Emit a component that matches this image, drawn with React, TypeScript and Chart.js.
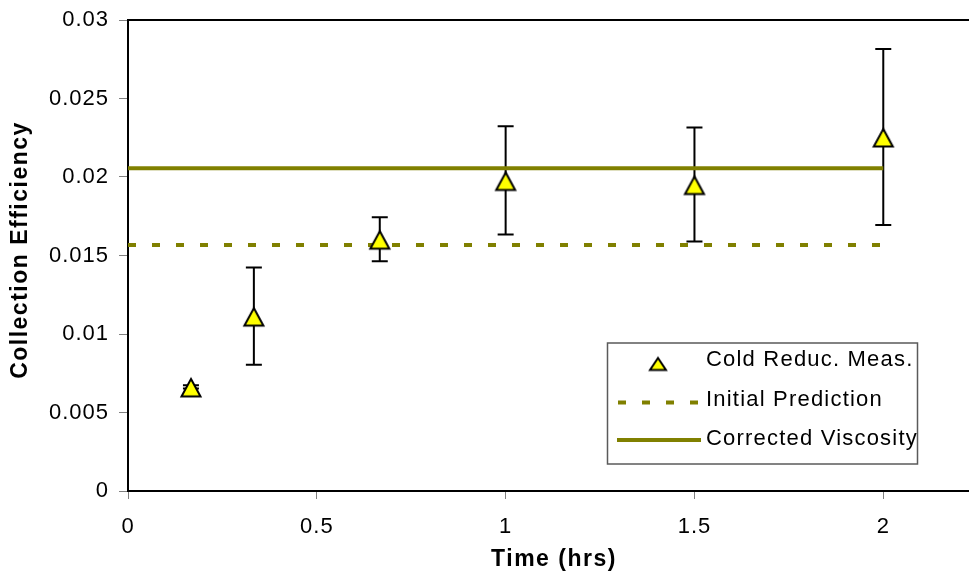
import React, { useEffect, useRef } from 'react';
import { Chart, registerables } from 'chart.js';

Chart.register(...registerables);

// ---- Data ----
const timeHrs = [0.1667, 0.3333, 0.6667, 1, 1.5, 2];
const coldReducMeas = [0.00663, 0.01114, 0.01604, 0.01978, 0.01952, 0.02255];
const measError = [0.0001, 0.0031, 0.0014, 0.00345, 0.00363, 0.0056];
const lineTimes = [0, 2];
const initialPrediction = [0.01567, 0.01567];
const correctedViscosity = [0.02055, 0.02055];
const seriesLabels = ['Cold Reduc. Meas.', 'Initial Prediction', 'Corrected Viscosity'];
const xTicks = [0, 0.5, 1, 1.5, 2];
const yTicks = [0, 0.005, 0.01, 0.015, 0.02, 0.025, 0.03];
const xTitle = 'Time (hrs)';
const yTitle = 'Collection Efficiency';

const OLIVE = '#808000';
const FONT = '"Liberation Sans", Arial, Helvetica, sans-serif';

function makeTriangle(w: number, h: number, top: number, left: number, right: number, bottom: number, lw: number) {
  const c = document.createElement('canvas');
  c.width = w;
  c.height = h;
  const ctx = c.getContext('2d')!;
  ctx.beginPath();
  ctx.moveTo(w / 2, top);
  ctx.lineTo(right, bottom);
  ctx.lineTo(left, bottom);
  ctx.closePath();
  ctx.fillStyle = '#FFFF00';
  ctx.fill();
  ctx.lineWidth = lw;
  ctx.lineJoin = 'miter';
  ctx.strokeStyle = '#000';
  ctx.stroke();
  return c;
}

export default function App() {
  const ref = useRef<HTMLCanvasElement>(null);

  useEffect(() => {
    const canvas = ref.current!;
    const markerBig = makeTriangle(24, 24, 4, 2.5, 21.5, 21.5, 2);
    const markerSmall = makeTriangle(20, 18, 3.5, 2, 18, 15.5, 2);

    const letterSpacingPlugin = {
      id: 'letterSpacing',
      beforeDraw(chart: any) {
        chart.ctx.letterSpacing = '1px';
      },
    };

    const errorBarPlugin = {
      id: 'errorBars',
      beforeDatasetsDraw(chart: any) {
        const ctx = chart.ctx;
        const xs = chart.scales.x;
        const ys = chart.scales.y;
        ctx.save();
        ctx.strokeStyle = '#000';
        ctx.lineWidth = 2;
        timeHrs.forEach((t, i) => {
          const px = xs.getPixelForValue(t);
          const yTop = ys.getPixelForValue(coldReducMeas[i] + measError[i]);
          const yBot = ys.getPixelForValue(coldReducMeas[i] - measError[i]);
          ctx.beginPath();
          ctx.moveTo(px, yTop);
          ctx.lineTo(px, yBot);
          ctx.moveTo(px - 8, yTop);
          ctx.lineTo(px + 8, yTop);
          ctx.moveTo(px - 8, yBot);
          ctx.lineTo(px + 8, yBot);
          ctx.stroke();
        });
        ctx.restore();
      },
    };

    const framePlugin = {
      id: 'frame',
      afterDraw(chart: any) {
        const ctx = chart.ctx;
        const a = chart.chartArea;
        ctx.save();
        // top border
        ctx.strokeStyle = '#000';
        ctx.lineWidth = 2;
        ctx.beginPath();
        ctx.moveTo(a.left - 1, a.top);
        ctx.lineTo(a.right, a.top);
        ctx.stroke();

        // axis titles
        ctx.fillStyle = '#000';
        ctx.font = `bold 23px ${FONT}`;
        ctx.letterSpacing = '1.5px';
        ctx.textAlign = 'center';
        ctx.textBaseline = 'middle';
        ctx.fillText(xTitle, 554, 560);
        ctx.save();
        ctx.translate(21, 250);
        ctx.rotate(-Math.PI / 2);
        ctx.fillText(yTitle, 0, 0);
        ctx.restore();

        // legend
        const bx = 607.5, by = 343, bw = 310, bh = 121;
        ctx.fillStyle = '#fff';
        ctx.fillRect(bx, by, bw, bh);
        ctx.strokeStyle = '#5a5a5a';
        ctx.lineWidth = 1.5;
        ctx.strokeRect(bx, by, bw, bh);
        const rows = [360, 400, 438.5];
        const labels = chart.data.datasets.map((d: any) => d.label);
        ctx.drawImage(markerSmall, 658 - markerSmall.width / 2, 363.5 - markerSmall.height / 2);
        ctx.strokeStyle = OLIVE;
        ctx.lineWidth = 4;
        ctx.lineCap = 'butt';
        ctx.setLineDash([8, 16]);
        ctx.beginPath();
        ctx.moveTo(618, 402.5);
        ctx.lineTo(699, 402.5);
        ctx.stroke();
        ctx.setLineDash([]);
        ctx.beginPath();
        ctx.moveTo(617, 440);
        ctx.lineTo(701, 440);
        ctx.stroke();
        ctx.fillStyle = '#000';
        ctx.font = `22px ${FONT}`;
        ctx.letterSpacing = '1.2px';
        ctx.textAlign = 'left';
        ctx.textBaseline = 'middle';
        labels.forEach((l: string, i: number) => ctx.fillText(l, 706, rows[i]));
        ctx.restore();
      },
    };

    const chart = new Chart(canvas, {
      type: 'scatter',
      data: {
        datasets: [
          {
            label: seriesLabels[0],
            data: timeHrs.map((t, i) => ({ x: t, y: coldReducMeas[i] })),
            pointStyle: markerBig as any,
            pointRadius: 11,
            showLine: false,
            order: 0,
          },
          {
            label: seriesLabels[1],
            data: lineTimes.map((t, i) => ({ x: t, y: initialPrediction[i] })),
            showLine: true,
            borderColor: OLIVE,
            borderWidth: 4,
            borderDash: [8, 16],
            borderCapStyle: 'butt',
            pointRadius: 0,
            order: 2,
          },
          {
            label: seriesLabels[2],
            data: lineTimes.map((t, i) => ({ x: t, y: correctedViscosity[i] })),
            showLine: true,
            borderColor: OLIVE,
            borderWidth: 4,
            borderCapStyle: 'butt',
            pointRadius: 0,
            order: 1,
          },
        ],
      },
      options: {
        animation: false,
        responsive: false,
        devicePixelRatio: 1,
        layout: { autoPadding: false, padding: { top: 20, right: 0, left: 0, bottom: 0 } },
        plugins: {
          legend: { display: false },
          tooltip: { enabled: false },
        },
        scales: {
          x: {
            type: 'linear',
            min: 0,
            max: 2.227,
            afterBuildTicks: (s: any) => {
              s.ticks = xTicks.map((v) => ({ value: v }));
            },
            afterFit: (s: any) => {
              s.height = 86;
              s.paddingLeft = 0;
              s.paddingRight = 0;
            },
            ticks: {
              color: '#000',
              font: { family: FONT, size: 22 },
              padding: 15,
              maxRotation: 0,
              callback: (v: any) => String(Number(Number(v).toFixed(3))),
            },
            grid: { drawOnChartArea: false, tickLength: 8, color: '#808080', lineWidth: 1 },
            border: { color: '#000', width: 2 },
          },
          y: {
            type: 'linear',
            min: 0,
            max: 0.03,
            afterBuildTicks: (s: any) => {
              s.ticks = yTicks.map((v) => ({ value: v }));
            },
            afterFit: (s: any) => {
              s.width = 128;
              s.paddingTop = 0;
              s.paddingBottom = 0;
            },
            ticks: {
              color: '#000',
              font: { family: FONT, size: 22 },
              padding: 10,
              callback: (v: any) => String(Number(Number(v).toFixed(3))),
            },
            grid: { drawOnChartArea: false, tickLength: 9, color: '#808080', lineWidth: 1 },
            border: { color: '#000', width: 2 },
          },
        },
      },
      plugins: [letterSpacingPlugin, errorBarPlugin, framePlugin],
    });

    return () => chart.destroy();
  }, []);

  return (
    <div style={{ position: 'fixed', left: 0, top: 0, width: 969, height: 577, background: '#fff', overflow: 'hidden' }}>
      <canvas ref={ref} width={969} height={577} style={{ display: 'block', width: 969, height: 577 }} />
    </div>
  );
}
